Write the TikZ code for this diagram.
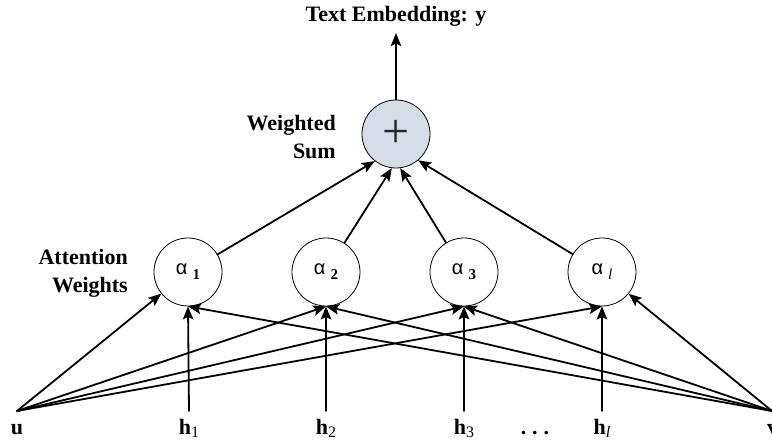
\documentclass[tikz,border=0pt]{standalone}
\usepackage{fontspec}
\setmainfont{Liberation Serif}
\newfontfamily\greekfont{Liberation Sans}
\usetikzlibrary{arrows.meta}

\definecolor{sumblue}{RGB}{213,221,233}

\tikzset{
	alphanode/.style={circle,draw,line width=0.8pt,minimum size=68pt,inner sep=0pt},
	sumnode/.style={circle,draw,line width=0.8pt,fill=sumblue,minimum size=68pt,inner sep=0pt},
	arrowline/.style={line width=1.8pt,line cap=round,-{Stealth[length=13pt,width=10.5pt,inset=2.5pt]}},
	sidelabel/.style={font=\bfseries\fontsize{22}{28}\selectfont,align=right,inner sep=0pt},
	leaflabel/.style={font=\bfseries\fontsize{22}{22}\selectfont,anchor=base,inner sep=0pt}
}

% weight inside a circle: alpha with lowered index
\newcommand\alphalab[1]{{\greekfont\fontsize{20}{20}\selectfont α}\hspace{5pt}\raisebox{-5pt}{\bfseries\fontsize{15}{15}\selectfont #1}}
% hidden state label
\newcommand\hlab[1]{h\raisebox{-3pt}{\mdseries\fontsize{16}{16}\selectfont #1}}

\begin{document}
\begin{tikzpicture}[x=1pt,y=1pt]
\useasboundingbox (0,0) rectangle (772,443);

%output
\node[leaflabel] (title) at (396,421) {Text Embedding: y};
\node[sumnode] (sum) at (396,309) {\color{black!85}\fontsize{48}{48}\selectfont +};
\node[sidelabel,anchor=east] (sumlab) at (336,306) {Weighted\\Sum};

%attention weights
\node[alphanode] (a1) at (188,171) {\alphalab{1}};
\node[alphanode] (a2) at (326,171) {\alphalab{2}};
\node[alphanode] (a3) at (464,171) {\alphalab{3}};
\node[alphanode] (a4) at (602,171) {\alphalab{\mdseries\itshape l}};
\node[sidelabel,anchor=east] (attlab) at (128,170) {Attention\\Weights};

%inputs
\coordinate (u) at (17,32);
\coordinate (v) at (772,32);
\foreach \i/\x in {1/189,2/326,3/464,4/602}
	\coordinate (h\i) at (\x,32);

\node[leaflabel] (ulab) at (17,8) {u};
\node[leaflabel] (h1lab) at (189,8) {\hlab{1}};
\node[leaflabel] (h2lab) at (326,8) {\hlab{2}};
\node[leaflabel] (h3lab) at (464,8) {\hlab{3}};
\node[leaflabel] (h4lab) at (602,8) {\hlab{\itshape l}};
\node[leaflabel] (dots) at (535,8) {.\hspace{6pt}.\hspace{6pt}.};
\node[leaflabel,anchor=base west] (vlab) at (767,8) {v};

%connections
\draw[arrowline] (sum) -- (title) [shorten >=6pt];
\draw[arrowline] (a1) -- (sum.-128);
\draw[arrowline] (a2) -- (sum.-97);
\draw[arrowline] (a3) -- (sum.-83);
\draw[arrowline] (a4) -- (sum.-50);

\draw[arrowline] (u) -- (a1);
\foreach \i in {2,3,4}
	\draw[arrowline] (u) -- (a\i.south);
\foreach \i in {1,2,3}
	\draw[arrowline] (v) -- (a\i.south);
\draw[arrowline] (v) -- (a4);
\foreach \i in {1,...,4}
	\draw[arrowline] (h\i) -- (a\i.south);
\end{tikzpicture}
\end{document}
